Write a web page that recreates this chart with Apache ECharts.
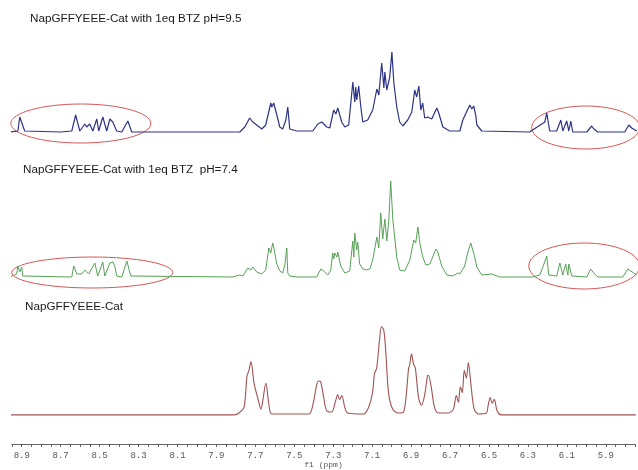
<!DOCTYPE html>
<html>
<head>
<meta charset="utf-8">
<script src="https://cdn.jsdelivr.net/npm/echarts@6/dist/echarts.min.js"></script>
<style>
html,body{margin:0;padding:0;background:#fff;}
#chart{width:638px;height:470px;}
</style>
</head>
<body>
<div id="chart"></div>
<script>
// spectrum titles, top to bottom
var titles = ['NapGFFYEEE-Cat with 1eq BTZ pH=9.5', 'NapGFFYEEE-Cat with 1eq BTZ  pH=7.4', 'NapGFFYEEE-Cat'];
var tickLabels = ['8.9','8.7','8.5','8.3','8.1','7.9','7.7','7.5','7.3','7.1','6.9','6.7','6.5','6.3','6.1','5.9'];

// [ppm, intensity]
var specPH95 = [[8.961,0],[8.920,1],[8.910,15],[8.903,11],[8.895,13],[8.885,1],[8.70,0],[8.644,1],[8.624,17],[8.603,1],
  [8.577,8],[8.567,5],[8.552,8],[8.536,1],[8.516,13],[8.506,1],[8.485,15],[8.465,1],[8.449,13],[8.434,10],[8.429,12],
  [8.414,1],[8.388,0],[8.357,11],[8.337,0],[8.0,0],[7.784,0],[7.758,5],[7.748,7],[7.733,14],[7.717,10],[7.697,7],
  [7.671,3],[7.651,7],[7.625,29],[7.620,25],[7.610,29],[7.594,17],[7.579,5],[7.564,3],[7.548,12],[7.538,25],[7.528,3],
  [7.492,1],[7.410,1],[7.384,8],[7.364,10],[7.338,5],[7.323,4],[7.303,22],[7.292,18],[7.282,24],[7.262,10],[7.246,5],
  [7.226,7],[7.205,50],[7.195,30],[7.190,45],[7.185,32],[7.175,46],[7.164,25],[7.154,10],[7.129,12],[7.103,22],
  [7.082,43],[7.072,37],[7.057,69],[7.046,44],[7.041,60],[7.031,42],[7.016,55],[7.005,80],[6.995,49],[6.980,25],
  [6.965,10],[6.949,6],[6.924,12],[6.903,20],[6.888,42],[6.878,35],[6.867,46],[6.857,22],[6.847,29],[6.837,14],
  [6.821,15],[6.801,13],[6.775,24],[6.765,19],[6.744,5],[6.709,1],[6.657,1],[6.642,12],[6.606,27],[6.596,23],
  [6.586,26],[6.576,17],[6.570,7],[6.545,1],[6.3,0],[6.222,10],[6.212,19],[6.197,1],[6.161,1],[6.140,12],[6.130,1],
  [6.110,11],[6.099,1],[6.089,11],[6.079,0],[6.007,0],[5.982,6],[5.971,3],[5.961,5],[5.951,0],[5.813,0],[5.792,7],
  [5.777,4],[5.772,6],[5.751,1]];
var specPH74 = [[8.961,0],[8.926,3],[8.920,11],[8.910,5],[8.900,10],[8.895,1],[8.644,0],[8.634,11],[8.618,3],[8.593,3],
  [8.577,7],[8.567,5],[8.557,3],[8.526,14],[8.511,1],[8.485,15],[8.475,1],[8.449,14],[8.434,15],[8.424,11],[8.414,1],
  [8.388,0],[8.362,16],[8.342,1],[7.820,0],[7.784,2],[7.768,1],[7.743,9],[7.727,7],[7.717,10],[7.697,5],[7.671,3],
  [7.651,7],[7.635,29],[7.625,24],[7.615,34],[7.610,30],[7.594,13],[7.579,6],[7.564,4],[7.553,12],[7.543,29],[7.538,4],
  [7.528,1],[7.492,0],[7.390,0],[7.369,8],[7.354,6],[7.333,2],[7.318,7],[7.308,24],[7.303,18],[7.297,24],[7.287,20],
  [7.282,25],[7.267,11],[7.246,4],[7.221,6],[7.205,36],[7.200,20],[7.195,44],[7.185,27],[7.180,35],[7.170,13],
  [7.154,8],[7.134,7],[7.118,8],[7.103,17],[7.082,40],[7.072,29],[7.062,64],[7.052,38],[7.041,58],[7.031,36],
  [7.021,56],[7.011,96],[7.000,57],[6.980,20],[6.965,7],[6.939,6],[6.913,17],[6.893,37],[6.883,34],[6.872,50],
  [6.862,34],[6.852,32],[6.847,20],[6.831,12],[6.811,13],[6.796,20],[6.780,28],[6.770,25],[6.750,11],[6.724,2],
  [6.693,1],[6.668,4],[6.657,3],[6.632,11],[6.616,25],[6.601,34],[6.591,27],[6.581,20],[6.570,10],[6.545,2],
  [6.494,3],[6.488,1],[6.453,0],[6.284,0],[6.248,2],[6.232,10],[6.212,21],[6.202,2],[6.161,1],[6.145,14],[6.130,2],
  [6.115,13],[6.104,2],[6.099,13],[6.084,1],[6.007,0],[5.987,8],[5.976,5],[5.966,7],[5.951,0],[5.823,0],[5.797,8],
  [5.782,6],[5.772,8],[5.751,2]];
var specFree = [[8.961,0],[7.809,0],[7.784,2],[7.758,8],[7.743,40],[7.733,46],[7.722,55],[7.707,33],[7.686,16],
  [7.671,6],[7.661,16],[7.646,33],[7.630,10],[7.615,1],[7.425,1],[7.405,10],[7.384,32],[7.374,35],[7.364,34],
  [7.349,18],[7.333,4],[7.308,3],[7.287,15],[7.277,21],[7.267,16],[7.256,20],[7.241,8],[7.226,2],[7.144,1],
  [7.118,8],[7.098,23],[7.088,43],[7.077,48],[7.062,78],[7.052,91],[7.041,88],[7.031,68],[7.016,23],[6.995,6],
  [6.965,2],[6.939,3],[6.924,23],[6.913,48],[6.908,51],[6.898,63],[6.888,53],[6.878,48],[6.862,18],[6.847,10],
  [6.831,20],[6.816,40],[6.811,41],[6.796,28],[6.780,8],[6.760,2],[6.709,2],[6.683,6],[6.668,20],[6.657,13],
  [6.647,29],[6.637,23],[6.627,46],[6.616,38],[6.606,54],[6.591,28],[6.576,6],[6.555,1],[6.514,2],[6.504,10],
  [6.494,18],[6.483,12],[6.473,16],[6.458,4],[6.437,0],[5.746,0]];

// circled regions: spectrum index, ppm range, intensity range
var circled = [
  {spec: 0, from: 8.956, to: 8.239, hi: 28, lo: -11},
  {spec: 0, from: 6.289, to: 5.736, hi: 26, lo: -17},
  {spec: 1, from: 8.951, to: 8.127, hi: 20, lo: -11},
  {spec: 1, from: 6.304, to: 5.736, hi: 34, lo: -12}
];

var myChart = echarts.init(document.getElementById('chart'));
var specs = [specPH95, specPH74, specFree];
var colors = ['#2e3485', '#55a155', '#a05252'];
var widths = [1.2, 1, 1.1];
var gridTops = [32, 177, 318];
var titleY = [19, 170, 307];
var titleX = [30, 23, 25];

var grids = [], xAxes = [], yAxes = [], series = [], titleList = [];
for (var i = 0; i < 3; i++) {
  var last = (i == 2);
  // bottom grid runs down to the ppm axis, 30px under its baseline
  grids.push({left: 12, right: 1, top: gridTops[i], height: last ? 130 : 100});
  xAxes.push({
    type: 'value', gridIndex: i, min: 5.75, max: 8.95, interval: 0.05, inverse: true,
    show: last,
    splitLine: {show: false},
    axisLine: {onZero: false, lineStyle: {color: '#666', width: 1}},
    axisTick: {length: 3, lineStyle: {color: '#666'}},
    axisLabel: {
      margin: 7, color: '#555', fontFamily: 'Liberation Mono', fontSize: 9,
      formatter: function (v) {
        if (Math.abs(v * 10 - Math.round(v * 10)) > 1e-6) return '';
        var s = (Math.round(v * 10) / 10).toFixed(1);
        return tickLabels.indexOf(s) >= 0 ? s : '';
      }
    },
    name: last ? 'f1 (ppm)' : '', nameLocation: 'middle', nameGap: 17,
    nameTextStyle: {color: '#555', fontFamily: 'Liberation Mono', fontSize: 8}
  });
  yAxes.push({type: 'value', gridIndex: i, min: last ? -30 : 0, max: 100, show: false});
  series.push({
    type: 'line', xAxisIndex: i, yAxisIndex: i, data: specs[i],
    symbol: 'none', clip: false, silent: true, smooth: last ? 0.3 : false,
    lineStyle: {color: colors[i], width: widths[i]}
  });
  titleList.push({
    text: titles[i], left: titleX[i], top: titleY[i] - 7, padding: 0,
    textStyle: {fontFamily: 'Liberation Sans', fontSize: 11.7, fontWeight: 'normal', color: '#1a1a1a', lineHeight: 14}
  });
}

myChart.setOption({
  animation: false,
  title: titleList,
  grid: grids,
  xAxis: xAxes,
  yAxis: yAxes,
  series: series
});

// red ellipses around the changed regions
var shapes = [];
for (var k = 0; k < circled.length; k++) {
  var c = circled[k];
  var p1 = myChart.convertToPixel({gridIndex: c.spec}, [c.from, c.hi]);
  var p2 = myChart.convertToPixel({gridIndex: c.spec}, [c.to, c.lo]);
  shapes.push({
    type: 'ellipse', silent: true,
    shape: {cx: (p1[0] + p2[0]) / 2, cy: (p1[1] + p2[1]) / 2, rx: Math.abs(p2[0] - p1[0]) / 2, ry: Math.abs(p2[1] - p1[1]) / 2},
    style: {fill: 'none', stroke: '#d45656', lineWidth: 1}
  });
}
myChart.setOption({graphic: shapes});
</script>
</body>
</html>
